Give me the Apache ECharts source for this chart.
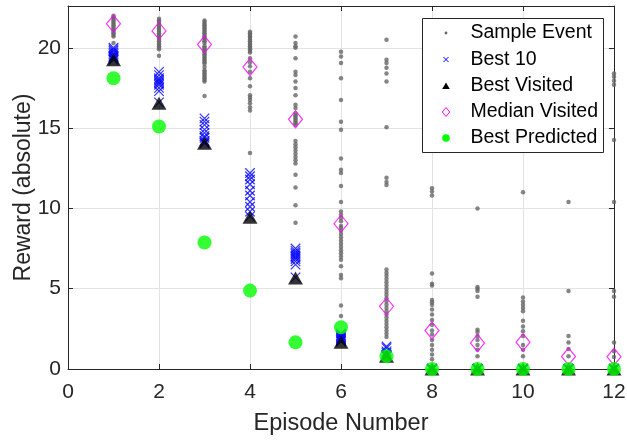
<!DOCTYPE html>
<html>
<head>
<meta charset="utf-8">
<script src="https://cdn.jsdelivr.net/npm/echarts@6/dist/echarts.min.js"></script>
<style>
  html, body { margin: 0; padding: 0; background: #ffffff; }
  #chart { width: 627px; height: 441px; }
</style>
</head>
<body>
<div id="chart"></div>
<script>
// Episodes on the x axis
const episodes = [1, 2, 3, 4, 5, 6, 7, 8, 9, 10, 11, 12];

// Rewards of every sampled event, one list per episode
const sampleRewards = [
  [22.0, 21.9, 21.8, 21.7, 21.6, 21.5, 21.4, 21.3, 21.2, 21.1, 21.0, 20.9, 20.8, 20.7, 20.3],
  [21.8, 21.7, 21.6, 21.5, 21.4, 21.3, 21.2, 21.1, 21.0, 20.9, 20.8, 20.7, 20.6, 20.5, 20.4, 20.3, 20.2, 20.1, 20.0, 19.9, 19.5],
  [21.7, 21.6, 21.5, 21.4, 21.3, 21.2, 21.1, 21.0, 20.9, 20.8, 20.7, 20.6, 20.5, 20.4, 20.3, 20.1, 20.0, 19.9, 19.8, 19.7,
   19.6, 19.5, 19.4, 19.3, 19.2, 19.1, 19.0, 18.8, 18.6, 18.5, 18.4, 18.3, 18.2, 18.1, 18.0, 17.9, 17.0],
  [21.0, 20.9, 20.8, 20.7, 20.6, 20.5, 20.4, 20.3, 20.2, 20.1, 20.0, 19.9, 19.8, 19.7, 19.35, 19.1, 18.85, 18.5, 18.1,
   17.6, 17.05, 16.9, 16.75, 16.55, 16.3, 16.1, 13.45],
  [20.7, 20.3, 20.1, 20.0, 19.35, 18.5, 18.3, 17.9, 17.5, 17.05, 16.45, 16.25, 15.9, 15.8, 15.7, 15.6, 15.5, 15.4, 15.3,
   15.2, 14.2, 14.0, 13.8, 13.6, 13.4, 13.2, 13.0, 12.8, 12.1, 11.3, 10.2, 9.1],
  [19.75, 19.45, 19.05, 18.1, 16.75, 15.4, 14.9, 13.1, 12.4, 12.2, 11.4, 10.4, 9.8, 9.6, 9.4, 9.2, 8.9, 8.8, 8.6, 8.4,
   8.2, 8.0, 7.8, 7.6, 7.4, 7.2, 7.0, 6.8, 6.4, 5.85, 5.65, 3.95, 3.3],
  [20.5, 19.25, 19.05, 18.75, 18.4, 17.9, 15.05, 11.9, 11.65, 11.45, 6.2, 6.0, 5.8, 5.6, 5.4, 5.2, 5.0, 4.8, 4.6, 4.4,
   4.2, 4.0, 3.8, 3.6, 3.4, 3.2, 3.0, 2.8, 2.6, 2.4, 2.2, 2.0],
  [11.25, 11.05, 10.8, 5.95, 5.3, 5.2, 4.3, 4.15, 4.0, 3.7, 3.4, 3.05, 2.75, 2.4, 2.15, 1.8, 1.5, 1.2, 0.9, 0.6, 0.0],
  [10.0, 5.1, 5.0, 4.85, 4.5, 2.45, 2.3, 2.05, 1.8, 1.5, 1.2, 0.8, 0.0],
  [11.0, 4.45, 4.2, 4.0, 3.8, 3.6, 3.0, 2.65, 2.35, 2.05, 1.5, 1.2, 0.8, 0.0],
  [10.4, 4.85, 2.05, 1.65, 1.25, 0.8, 0.0],
  [18.4, 18.2, 17.95, 17.7, 14.25, 10.4, 4.85, 4.5, 1.65, 1.1, 0.75, 0.0]
];

// Ten best rewards found in each episode
const best10 = [
  [20.0, 19.9, 19.8, 19.7, 19.6, 19.5, 19.45, 19.4, 19.3, 19.25],
  [18.5, 18.3, 18.1, 18.0, 17.9, 17.8, 17.7, 17.5, 17.3, 16.6],
  [15.6, 15.4, 15.2, 14.9, 14.7, 14.5, 14.4, 14.2, 14.1, 14.05],
  [12.2, 12.0, 11.8, 11.5, 11.1, 10.8, 10.4, 10.1, 9.8, 9.5],
  [7.5, 7.35, 7.25, 7.15, 7.05, 6.95, 6.85, 6.7, 6.5, 5.7],
  [2.2, 2.1, 2.05, 2.0, 1.95, 1.9, 1.85, 1.8, 1.75, 1.7],
  [1.4, 1.3, 1.1, 1.0, 0.9, 0.85, 0.8, 0.8, 0.8, 0.8],
  [0, 0, 0, 0, 0, 0, 0, 0, 0, 0],
  [0, 0, 0, 0, 0, 0, 0, 0, 0, 0],
  [0, 0, 0, 0, 0, 0, 0, 0, 0, 0],
  [0, 0, 0, 0, 0, 0, 0, 0, 0, 0],
  [0, 0, 0, 0, 0, 0, 0, 0, 0, 0]
];

const bestVisited    = [19.25, 16.55, 14.05, 9.45, 5.66, 1.67, 0.8, 0, 0, 0, 0, 0];
const medianVisited  = [21.5, 21.05, 20.2, 18.8, 15.55, 9.05, 3.9, 2.4, 1.62, 1.66, 0.78, 0.76];
const bestPredicted  = [18.1, 15.1, 7.88, 4.88, 1.66, 2.6, 0.8, 0, 0, 0, 0, 0];

// Axis tick values
const xTicks = [0, 2, 4, 6, 8, 10, 12];
const yTicks = [0, 5, 10, 15, 20];

// Legend entries
const legendNames = ['Sample Event', 'Best 10', 'Best Visited', 'Median Visited', 'Best Predicted'];

const FONT = '"Liberation Sans", Arial, Helvetica, sans-serif';
const INK = '#262626';

function columnPoints(lists) {
  const pts = [];
  lists.forEach((vals, i) => vals.forEach(v => pts.push([episodes[i], v])));
  return pts;
}
function pairPoints(vals) {
  return vals.map((v, i) => [episodes[i], v]);
}
// Only the listed tick values get a label
function yTickLabel(v) {
  return yTicks.indexOf(Math.round(v * 1000) / 1000) >= 0 ? String(v) : '';
}

const xMin = xTicks[0], xMax = xTicks[xTicks.length - 1];
const yMin = yTicks[0], yMax = 22.6;

const hiddenAxis = {
  axisLabel: { show: false },
  splitLine: { show: false },
  axisLine: { show: true, onZero: false, lineStyle: { color: INK, width: 1 } },
  axisTick: { show: true, inside: true, length: 5, lineStyle: { color: INK } }
};

// Legend drawn as plain shapes inside a framed box
const lgX = 422, lgY = 18, lgW = 181, lgH = 134;
const rowY = [33, 59.5, 86, 112, 138];
const mX = 446, tX = 470.5;
const legendGraphics = [
  { type: 'rect', shape: { x: lgX + 0.5, y: lgY + 0.5, width: lgW, height: lgH },
    style: { fill: '#ffffff', stroke: INK, lineWidth: 1 }, z: 100 },
  { type: 'circle', shape: { cx: mX, cy: rowY[0], r: 1.4 }, style: { fill: '#666666' }, z: 101 },
  { type: 'polyline', shape: { points: [[mX - 2.5, rowY[1] - 2.5], [mX + 2.5, rowY[1] + 2.5]] },
    style: { stroke: '#0000ff', lineWidth: 1 }, z: 101 },
  { type: 'polyline', shape: { points: [[mX + 2.5, rowY[1] - 2.5], [mX - 2.5, rowY[1] + 2.5]] },
    style: { stroke: '#0000ff', lineWidth: 1 }, z: 101 },
  { type: 'polygon', shape: { points: [[mX, rowY[2] - 3.5], [mX + 3.8, rowY[2] + 3], [mX - 3.8, rowY[2] + 3]] },
    style: { fill: '#000000' }, z: 101 },
  { type: 'polygon', shape: { points: [[mX, rowY[3] - 4.5], [mX + 3.7, rowY[3]], [mX, rowY[3] + 4.5], [mX - 3.7, rowY[3]]] },
    style: { fill: 'none', stroke: '#ff00ff', lineWidth: 1 }, z: 101 },
  { type: 'circle', shape: { cx: mX, cy: rowY[4], r: 3.8 }, style: { fill: '#00ff00' }, z: 101 }
];
legendNames.forEach((name, i) => {
  legendGraphics.push({
    type: 'text', x: tX, y: rowY[i], z: 101,
    style: { text: name, fill: '#000000', font: '19.5px ' + FONT, verticalAlign: 'middle', align: 'left' }
  });
});

const chart = echarts.init(document.getElementById('chart'), null, { renderer: 'canvas' });

chart.setOption({
  animation: false,
  backgroundColor: '#ffffff',
  grid: { left: 68, right: 13, top: 6, bottom: 72, containLabel: false, outerBoundsMode: 'none' },
  xAxis: [
    {
      type: 'value', min: xMin, max: xMax, interval: 2,
      name: 'Episode Number', nameLocation: 'middle', nameGap: 43, nameMoveOverlap: false,
      nameTextStyle: { fontFamily: FONT, fontSize: 23.5, color: INK },
      axisLine: { show: true, onZero: false, lineStyle: { color: INK, width: 1 } },
      axisTick: { show: true, inside: true, length: 5, lineStyle: { color: INK } },
      axisLabel: { fontFamily: FONT, fontSize: 21, color: INK, margin: 13 },
      splitLine: { show: true, lineStyle: { color: '#e3e3e3', width: 1 } }
    },
    Object.assign({ type: 'value', min: xMin, max: xMax, interval: 2, position: 'top' }, hiddenAxis)
  ],
  yAxis: [
    {
      type: 'value', min: yMin, max: yMax, interval: 5,
      name: 'Reward (absolute)', nameLocation: 'middle', nameGap: 33, nameMoveOverlap: false,
      nameTextStyle: { fontFamily: FONT, fontSize: 23, color: INK },
      axisLine: { show: true, onZero: false, lineStyle: { color: INK, width: 1 } },
      axisTick: { show: true, inside: true, length: 5, lineStyle: { color: INK } },
      axisLabel: { fontFamily: FONT, fontSize: 21, color: INK, margin: 7, formatter: yTickLabel },
      splitLine: { show: true, lineStyle: { color: '#e3e3e3', width: 1 } }
    },
    Object.assign({ type: 'value', min: yMin, max: yMax, interval: 5, position: 'right' }, hiddenAxis)
  ],
  series: [
    {
      name: legendNames[0], type: 'scatter', data: columnPoints(sampleRewards),
      symbol: 'circle', symbolSize: 4.5, itemStyle: { color: '#666666' }, z: 2
    },
    {
      name: legendNames[1], type: 'scatter', data: columnPoints(best10),
      symbol: 'path://M0,0L10,10M10,0L0,10', symbolSize: 9.5,
      itemStyle: { color: 'rgba(0,0,0,0)', borderColor: '#0000ff', borderWidth: 1.2 }, z: 3
    },
    {
      name: legendNames[2], type: 'scatter', data: pairPoints(bestVisited),
      symbol: 'triangle', symbolSize: [15, 13], itemStyle: { color: '#000000' }, z: 4
    },
    {
      name: legendNames[3], type: 'scatter', data: pairPoints(medianVisited),
      symbol: 'diamond', symbolSize: [14, 17],
      itemStyle: { color: 'rgba(0,0,0,0)', borderColor: '#ff00ff', borderWidth: 1.2 }, z: 5
    },
    {
      name: legendNames[4], type: 'scatter', data: pairPoints(bestPredicted),
      symbol: 'circle', symbolSize: 14, itemStyle: { color: '#00ff00' }, z: 6
    }
  ],
  graphic: legendGraphics
});
</script>
</body>
</html>
